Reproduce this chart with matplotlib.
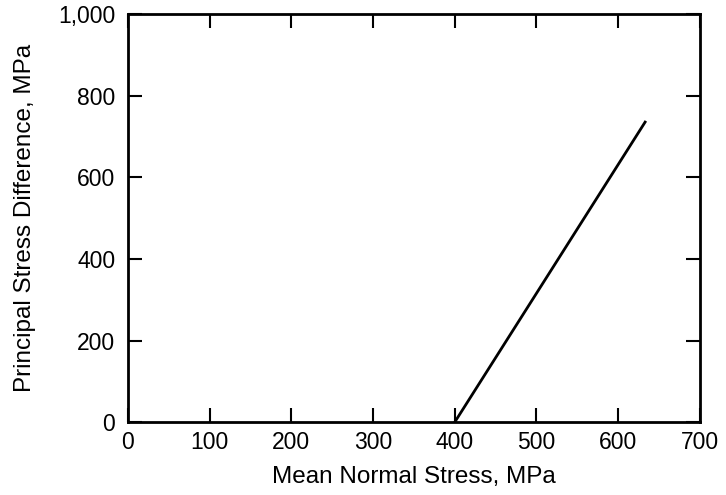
import matplotlib
matplotlib.use("Agg")
import matplotlib.pyplot as plt
from matplotlib.ticker import FuncFormatter

plt.rcParams['font.family'] = ['Liberation Sans', 'DejaVu Sans']

# Línea de resistencia (esfuerzo medio vs diferencia de esfuerzos)
mean_stress = [400, 633]
stress_diff = [0, 735]

x_ticks = [0, 100, 200, 300, 400, 500, 600, 700]
y_ticks = [0, 200, 400, 600, 800, 1000]

fig = plt.figure(figsize=(7.26, 4.95), dpi=100)
ax = fig.add_axes([0.176, 0.147, 0.788, 0.825])

ax.plot(mean_stress, stress_diff, color='black', linewidth=2)

ax.set_xlim(0, 700)
ax.set_ylim(0, 1000)
ax.set_xticks(x_ticks)
ax.set_yticks(y_ticks)
ax.yaxis.set_major_formatter(FuncFormatter(lambda v, p: f"{int(v):,}"))

ax.tick_params(direction='in', length=10, width=1.5, top=True, right=True,
               labelsize=16.5)
ax.tick_params(axis='x', pad=6)
ax.tick_params(axis='y', pad=9)
for s in ax.spines.values():
    s.set_linewidth(2)

ax.set_xlabel('Mean Normal Stress, MPa', fontsize=17.5, labelpad=9)
ax.set_ylabel('Principal Stress Difference, MPa', fontsize=17.5, labelpad=16)

fig.savefig('out.png', dpi=100)
